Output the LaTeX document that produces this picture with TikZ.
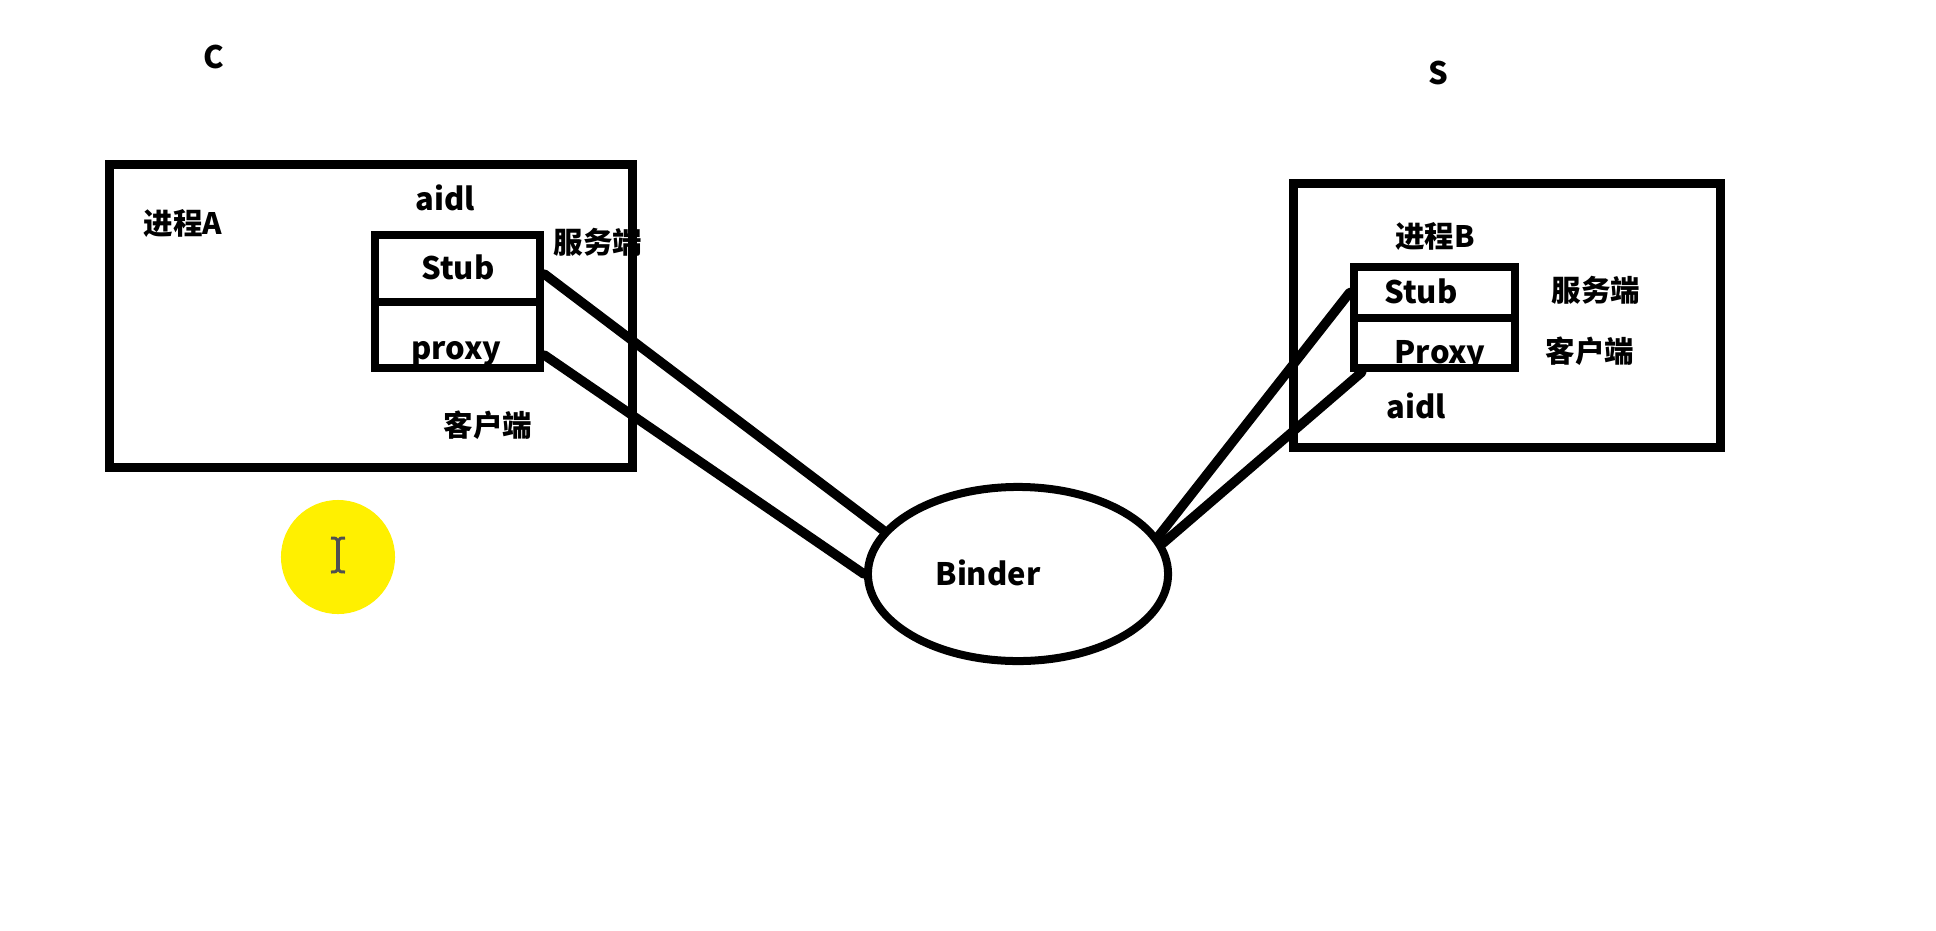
\documentclass[tikz,border=0pt]{standalone}
\usepackage{fontspec}
\setmainfont{Noto Sans CJK SC}
\usetikzlibrary{shapes.geometric}
\definecolor{spot}{RGB}{255,240,0}
\definecolor{beam}{RGB}{80,80,80}
\begin{document}
\begin{tikzpicture}[x=0.01cm,y=-0.01cm,
  lat/.style={font=\fontsize{8.8}{10}\selectfont\bfseries, inner sep=0pt},
  han/.style={font=\fontsize{8.4}{10}\selectfont\bfseries, inner sep=0pt},
  outerbox/.style={draw=black, line width=0.09cm, inner sep=0pt, rectangle},
  cellbox/.style={draw=black, line width=0.085cm, inner sep=0pt, rectangle},
  wire/.style={draw=black, line width=0.095cm, line cap=round}]
\useasboundingbox (0,0) rectangle (1936,930);
\fill[white] (0,0) rectangle (1936,930);
% labels
\node[lat] (c) at (214,57) {C};
\node[lat] (s) at (1438,73) {S};
\node[han] (procA) at (183,223) {进程A};
\node[lat] (aidlA) at (445,198) {aidl};
\node[han] (srvA) at (598,242) {服务端};
\node[han] (cliA) at (488,425) {客户端};
\node[han] (procB) at (1435,236) {进程B};
\node[han] (srvB) at (1596,290) {服务端};
\node[han] (cliB) at (1590,351) {客户端};
\node[lat] (aidlB) at (1416,406) {aidl};
% boxes
\node[outerbox, minimum width=5.22cm, minimum height=3.02cm] (boxA) at (371,316) {};
\node[outerbox, minimum width=4.26cm, minimum height=2.63cm] (boxB) at (1507,315.5) {};
\node[cellbox, minimum width=1.65cm, minimum height=0.67cm] (stubA) at (457.5,268.5) {};
\node[cellbox, minimum width=1.65cm, minimum height=0.66cm] (proxyA) at (457.5,335) {};
\node[cellbox, minimum width=1.61cm, minimum height=0.51cm] (stubB) at (1434.5,292.5) {};
\node[cellbox, minimum width=1.61cm, minimum height=0.50cm] (proxyB) at (1434.5,343) {};
\node[lat] (stubAt) at (458,267) {Stub};
\node[lat] (proxyAt) at (456,354) {proxy};
\node[lat] (stubBt) at (1421,291) {Stub};
\node[lat] (proxyBt) at (1440,355) {Proxy};
% binder
\node[draw=black, line width=0.08cm, ellipse, inner sep=0pt, minimum width=3.0cm, minimum height=1.74cm] (binder) at (1018,574) {};
\node[lat] (bindert) at (988,573) {Binder};
% connectors
\draw[wire] ([yshift=-0.055cm]stubA.east) -- (binder.162);
\draw[wire] ([yshift=-0.2cm]proxyA.east) -- (binder.180);
\draw[wire] (stubB.west) -- (binder.15);
\draw[wire] ([xshift=0.12cm]proxyB.south west) -- (binder.12);
% cursor highlight
\node[circle, fill=spot, minimum size=1.14cm, inner sep=0pt] (spotc) at (338,557) {};
\draw[beam, line width=0.035cm] (338,540) -- (338,570);
\draw[beam, line width=0.03cm] (331,538) .. controls (336,538) .. (338,541) .. controls (340,538) .. (345,538);
\draw[beam, line width=0.03cm] (331,572) .. controls (336,572) .. (338,569) .. controls (340,572) .. (345,572);
\end{tikzpicture}
\end{document}
